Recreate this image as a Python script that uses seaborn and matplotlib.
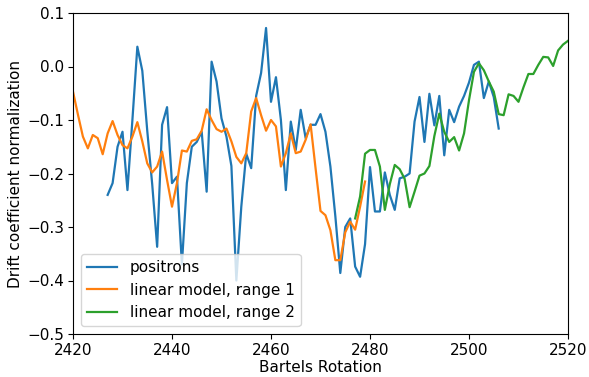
import numpy as np
import pandas as pd
import matplotlib
matplotlib.use("Agg")
import matplotlib.pyplot as plt
import seaborn as sns

# Data
pos_start = 2427
positrons = [
    -0.24, -0.218, -0.15, -0.122, -0.231, -0.10, 0.037, -0.008, -0.12, -0.22,
    -0.337, -0.109, -0.076, -0.218, -0.206,
    -0.37, -0.218, -0.15, -0.141, -0.122, -0.234, 0.009, -0.028, -0.097, -0.131,
    -0.186, -0.40, -0.262, -0.163, -0.19,
    -0.055, -0.012, 0.072, -0.066, -0.02, -0.10, -0.231, -0.103, -0.156, -0.081,
    -0.134, -0.109, -0.109, -0.089, -0.122,
    -0.187, -0.28, -0.386, -0.30, -0.284, -0.374, -0.393, -0.332, -0.188, -0.271,
    -0.271, -0.198, -0.24, -0.268, -0.209,
    -0.206, -0.20, -0.103, -0.057, -0.141, -0.051, -0.11, -0.055, -0.166, -0.081,
    -0.104, -0.075, -0.055, -0.03, 0.003,
    0.009, -0.059, -0.028, -0.057, -0.116,
]

lin1_start = 2420
linear1 = [
    -0.047, -0.09, -0.131, -0.153, -0.128, -0.134, -0.164, -0.125, -0.102, -0.128,
    -0.147, -0.153, -0.131, -0.104, -0.14,
    -0.181, -0.198, -0.187, -0.159, -0.212, -0.262, -0.218, -0.157, -0.159, -0.139,
    -0.136, -0.12, -0.08, -0.10, -0.117,
    -0.122, -0.116, -0.14, -0.169, -0.181, -0.162, -0.084, -0.059, -0.091, -0.12,
    -0.10, -0.112, -0.187, -0.162, -0.125,
    -0.162, -0.159, -0.137, -0.108, -0.19, -0.27, -0.278, -0.306, -0.362, -0.362,
    -0.31, -0.29, -0.305, -0.262, -0.215,
]

lin2_start = 2477
linear2 = [
    -0.284, -0.243, -0.163, -0.156, -0.156, -0.187, -0.268, -0.22, -0.184, -0.192,
    -0.21, -0.263, -0.234, -0.204, -0.20,
    -0.186, -0.13, -0.088, -0.122, -0.141, -0.132, -0.157, -0.125, -0.063, -0.01,
    0.006, -0.007, -0.028, -0.047, -0.089,
    -0.091, -0.052, -0.055, -0.066, -0.039, -0.014, -0.014, 0.003, 0.018, 0.017,
    0.001, 0.03, 0.041, 0.048,
]

labels = ["positrons", "linear model, range 1", "linear model, range 2"]
x_ticks = [2420, 2440, 2460, 2480, 2500, 2520]
y_ticks = [-0.5, -0.4, -0.3, -0.2, -0.1, 0.0, 0.1]

frames = []
for lab, start, vals in zip(labels, [pos_start, lin1_start, lin2_start],
                            [positrons, linear1, linear2]):
    frames.append(pd.DataFrame({
        "Bartels Rotation": np.arange(start, start + len(vals)),
        "value": vals,
        "series": lab,
    }))
df = pd.concat(frames, ignore_index=True)

plt.rcParams["font.size"] = 11

fig = plt.figure(figsize=(5.89, 3.77), dpi=100)
ax = fig.add_axes([73 / 589, 1 - 334 / 377, (568 - 73) / 589, (334 - 13) / 377])

palette = {labels[0]: "#1f77b4", labels[1]: "#ff7f0e", labels[2]: "#2ca02c"}
for lab in labels:
    sub = df[df["series"] == lab]
    sns.lineplot(data=sub, x="Bartels Rotation", y="value", color=palette[lab],
                 label=lab, ax=ax, linewidth=1.6)

ax.set_xlim(2420, 2520)
ax.set_ylim(-0.5, 0.1)
ax.set_xticks(x_ticks)
ax.set_yticks(y_ticks)
ax.set_xlabel("Bartels Rotation", fontsize=11, labelpad=1.5)
ax.set_ylabel("Drift coefficient normalization", fontsize=11, labelpad=3)
ax.tick_params(labelsize=11, pad=3)
ax.legend(loc="lower left", fontsize=11)

fig.savefig("out.png", dpi=100)
